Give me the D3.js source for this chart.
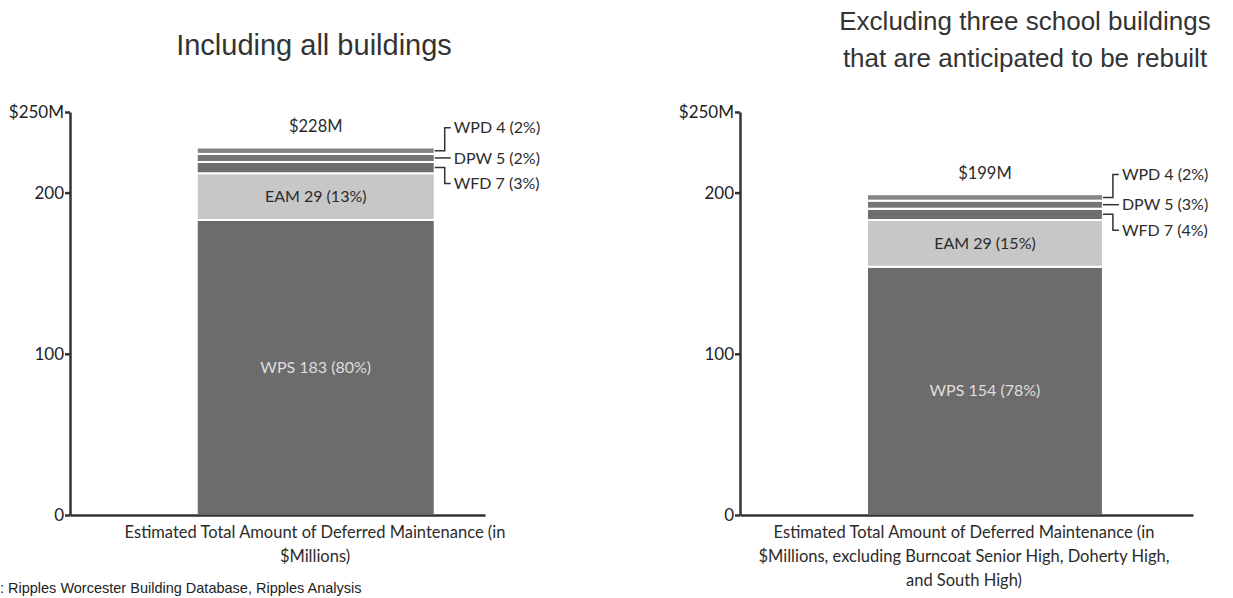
<!DOCTYPE html>
<html>
<head>
<meta charset="utf-8">
<script src="https://cdn.jsdelivr.net/npm/d3@7"></script>
<style>
  body { margin: 0; background: #fff; }
  svg { display: block; }
  .title { font-family: "Liberation Sans", Arial, sans-serif; fill: #333; }
  .lbl { font-family: Lato, "Open Sans", sans-serif; fill: #2b2b2b; }
  .axis path, .axis line { stroke: #333; stroke-width: 2.5px; }
  .axis text { font-family: Lato, sans-serif; font-size: 17px; fill: #222; }
  .note { font-family: "Liberation Sans", Arial, sans-serif; font-size: 14.5px; fill: #222; }
</style>
</head>
<body>
<svg id="chart" width="1233" height="598"></svg>
<script>
////////////////////////// DATA //////////////////////////

const segments = ['WPS', 'EAM', 'WFD', 'DPW', 'WPD'];
const allBuildings = [183, 29, 7, 5, 4];
const allShares = [80, 13, 3, 2, 2];
const excludingSchools = [154, 29, 7, 5, 4];
const excludingShares = [78, 15, 4, 3, 2];
const totalLabels = ['$228M', '$199M'];
const tickValues = [0, 100, 200, 250];
const titles = [
  ['Including all buildings'],
  ['Excluding three school buildings', 'that are anticipated to be rebuilt']
];
const categoryLabels = [
  ['Estimated Total Amount of Deferred Maintenance (in', '$Millions)'],
  ['Estimated Total Amount of Deferred Maintenance (in',
   '$Millions, excluding Burncoat Senior High, Doherty High,',
   'and South High)']
];
const source = 'Source: Ripples Worcester Building Database, Ripples Analysis';

////////////////////////// SETUP //////////////////////////

const svg = d3.select('#chart');
const colors = { WPS: '#6c6c6c', EAM: '#c7c7c7', WFD: '#6e6e6e', DPW: '#747474', WPD: '#858585' };

// panel layout (pixels)
const panels = [
  { values: allBuildings, shares: allShares, x0: 70, x1: 485, outer: 0.372, align: 0.716,
    titleX: 314, titleY: [55], titleSize: 29, catX: 315 },
  { values: excludingSchools, shares: excludingShares, x0: 740, x1: 1193, outer: 0.46, align: 0.585,
    titleX: 1025, titleY: [30, 67], titleSize: 26, catX: 964 }
];

const yScale = d3.scaleLinear().domain([0, 250]).range([515, 112]);

// small segments get callouts on the right, label offset from the segment middle
const calloutShift = { WFD: 16, DPW: 0, WPD: -23 };

panels.forEach((p, idx) => {
  const g = svg.append('g');
  const category = categoryLabels[idx].join(' ');
  const row = { cat: category };
  segments.forEach((s, i) => row[s] = p.values[i]);
  const stacked = d3.stack().keys(segments)([row]);

  const xScale = d3.scaleBand().domain([category]).range([p.x0, p.x1])
    .paddingInner(0).paddingOuter(p.outer).align(p.align);

  // bars
  g.selectAll('.seg')
    .data(stacked)
    .enter()
    .append('rect')
    .attr('class', 'seg')
    .attr('x', xScale(category))
    .attr('y', (d) => yScale(d[0][1]))
    .attr('width', xScale.bandwidth())
    .attr('height', (d) => yScale(d[0][0]) - yScale(d[0][1]))
    .style('fill', (d) => colors[d.key])
    .style('stroke', '#fff')
    .style('stroke-width', 2);

  // inside labels for the two big segments
  g.selectAll('.inside')
    .data(stacked.filter((d) => d.key === 'WPS' || d.key === 'EAM'))
    .enter()
    .append('text')
    .attr('class', 'lbl inside')
    .attr('x', xScale(category) + xScale.bandwidth() / 2)
    .attr('y', (d) => yScale((d[0][0] + d[0][1]) / 2))
    .attr('dy', '0.35em')
    .attr('text-anchor', 'middle')
    .style('font-size', '16px')
    .style('fill', (d) => d.key === 'WPS' ? '#dedede' : '#2b2b2b')
    .text((d) => {
      const i = segments.indexOf(d.key);
      return `${d.key} ${p.values[i]} (${p.shares[i]}%)`;
    });

  // callouts for the small segments
  const barRight = xScale(category) + xScale.bandwidth();
  const elbowX = barRight + 10;
  const textX = barRight + 19;
  const small = stacked.filter((d) => calloutShift[d.key] !== undefined);

  g.selectAll('.leader')
    .data(small)
    .enter()
    .append('path')
    .attr('class', 'leader')
    .attr('d', (d) => {
      const ym = yScale((d[0][0] + d[0][1]) / 2);
      const yl = ym + calloutShift[d.key];
      return d3.line()([[barRight, ym], [elbowX, ym], [elbowX, yl], [textX - 3, yl]]);
    })
    .style('fill', 'none')
    .style('stroke', '#333')
    .style('stroke-width', 1.5);

  g.selectAll('.callout')
    .data(small)
    .enter()
    .append('text')
    .attr('class', 'lbl callout')
    .attr('x', textX)
    .attr('y', (d) => yScale((d[0][0] + d[0][1]) / 2) + calloutShift[d.key])
    .attr('dy', '0.35em')
    .style('font-size', '16px')
    .text((d) => {
      const i = segments.indexOf(d.key);
      return `${d.key} ${p.values[i]} (${p.shares[i]}%)`;
    });

  // total on top
  g.append('text')
    .attr('class', 'lbl')
    .attr('x', xScale(category) + xScale.bandwidth() / 2)
    .attr('y', yScale(d3.sum(p.values)) - 21)
    .attr('dy', '0.35em')
    .attr('text-anchor', 'middle')
    .style('font-size', '16.5px')
    .text(totalLabels[idx]);

  // axes
  const yAxis = d3.axisLeft(yScale).tickValues(tickValues).tickSize(5).tickSizeOuter(0)
    .tickFormat((d) => d === 250 ? '$250M' : d);
  g.append('g').attr('class', 'axis').attr('transform', `translate(${p.x0},0)`).call(yAxis)
    .selectAll('text').attr('x', -6);

  const xAxis = d3.axisBottom(xScale).tickSize(0).tickSizeOuter(0).tickFormat('');
  g.append('g').attr('class', 'axis').attr('transform', `translate(0,${yScale(0)})`).call(xAxis);

  // category label under axis
  const cat = g.append('text')
    .attr('class', 'lbl')
    .attr('text-anchor', 'middle')
    .style('font-size', '16.5px');
  categoryLabels[idx].forEach((line, i) => {
    cat.append('tspan').attr('x', p.catX).attr('y', 538 + i * 24).text(line);
  });

  // title
  titles[idx].forEach((line, i) => {
    g.append('text')
      .attr('class', 'title')
      .attr('x', p.titleX)
      .attr('y', p.titleY[i])
      .attr('text-anchor', 'middle')
      .style('font-size', `${p.titleSize}px`)
      .text(line);
  });
});

// source note, clipped by the left edge like the original slide
svg.append('text')
  .attr('class', 'note')
  .attr('x', -46)
  .attr('y', 593)
  .text(source);
</script>
</body>
</html>
